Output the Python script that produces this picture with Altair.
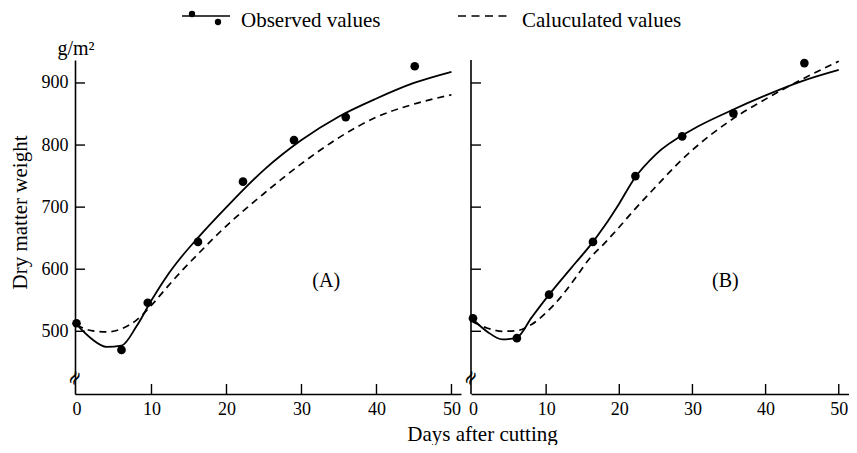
import altair as alt
import pandas as pd

FONT = "Liberation Serif"

# ---- Panel A ----
obs_days_A = [0, 6, 9.5, 16.2, 22.2, 29, 35.9, 45.1]
obs_vals_A = [513, 470, 546, 644, 741, 808, 845, 927]
fit_days_A = [0, 2, 4, 6, 8, 10, 12, 14, 16, 20, 25, 30, 35, 40, 45, 50]
obs_fit_A = [511, 488, 475, 477, 508, 550, 588, 620, 648, 700, 760, 808, 846, 875, 900, 918]
calc_A = [510, 501, 499, 504, 518, 542, 570, 597, 622, 670, 722, 770, 812, 845, 866, 881]

# ---- Panel B ----
obs_days_B = [0, 6, 10.4, 16.4, 22.2, 28.6, 35.6, 45.3]
obs_vals_B = [521, 489, 559, 644, 750, 814, 851, 932]
fit_days_B = [0, 2, 4, 6, 8, 10, 12, 14, 16, 18, 20, 22, 25, 30, 35, 40, 45, 50]
obs_fit_B = [519, 499, 487, 490, 522, 553, 582, 610, 638, 670, 706, 745, 785, 825, 854, 880, 903, 921]
calc_days_B = [0, 2, 4, 6, 8, 10, 12, 14, 16, 18, 20, 22, 25, 28, 30, 35, 40, 45, 50]
calc_B = [515, 505, 500, 501, 511, 530, 555, 586, 618, 642, 668, 695, 733, 770, 792, 838, 874, 906, 935]

x_ticks = [0, 10, 20, 30, 40, 50]
x_minor = [10, 20, 30, 40, 50]
y_ticks = [500, 600, 700, 800, 900]

panel_labels = ["(A)", "(B)"]
panel_label_day = [33.3, 34.5]
panel_label_val = [581, 581]

W, H = 774, 334
XB0 = 396  # left edge of panel B inside the plot area

yscale = alt.Scale(domain=[399, 937], nice=False, zero=False)
xscaleA = alt.Scale(domain=[-0.2, 51.27], range=[0, 386], nice=False, zero=False)
xscaleB = alt.Scale(domain=[-0.27, 51.4], range=[XB0, W], nice=False, zero=False)

common_axis = dict(ticks=False, grid=False, domain=True, domainColor="black",
                   domainWidth=1.6, labelFont=FONT, labelFontSize=18,
                   labelColor="black", labelFlush=False)

axisA = alt.Axis(orient="bottom", values=x_ticks, format="d", labelPadding=6,
                 title="Days after cutting", titleFont=FONT, titleFontSize=21,
                 titleFontWeight="normal", titleColor="black", titleX=407, titleY=46,
                 titleAlign="center", titleBaseline="alphabetic", **common_axis)
axisB = alt.Axis(orient="bottom", values=x_ticks, format="d", labelPadding=6,
                 title="", **common_axis)
yaxis = alt.Axis(orient="left", values=y_ticks, format="d", labelPadding=7,
                 title="Dry matter weight", titleFont=FONT, titleFontSize=21,
                 titleFontWeight="normal", titleColor="black", titleX=-55, titleY=152,
                 titleAngle=270, titleAlign="center", titleBaseline="middle",
                 **common_axis)


def enc_x(scale, axis):
    return alt.X("day:Q", scale=scale, axis=axis)


Y = alt.Y("val:Q", scale=yscale, axis=yaxis)


def panel(obs_d, obs_v, fit_d, fit_v, calc_d, calc_v, scale, axis, lab, lab_d, lab_v, x0):
    X = enc_x(scale, axis)
    solid = alt.Chart(pd.DataFrame({"day": fit_d, "val": fit_v})).mark_line(
        interpolate="monotone", color="black", strokeWidth=1.8).encode(x=X, y=Y)
    dashed = alt.Chart(pd.DataFrame({"day": calc_d, "val": calc_v})).mark_line(
        interpolate="monotone", color="black", strokeWidth=1.7,
        strokeDash=[7, 5]).encode(x=X, y=Y)
    pts = alt.Chart(pd.DataFrame({"day": obs_d, "val": obs_v})).mark_circle(
        color="black", size=75, opacity=1).encode(x=X, y=Y)
    label = alt.Chart(pd.DataFrame({"day": [lab_d], "val": [lab_v], "t": [lab]})).mark_text(
        font=FONT, fontSize=20, color="black").encode(x=X, y=Y, text="t:N")
    xt = alt.Chart(pd.DataFrame({"day": x_minor})).mark_rule(
        color="black", strokeWidth=1.4).encode(x=X, y=alt.value(H), y2=alt.value(H - 10))
    yt = alt.Chart(pd.DataFrame({"val": y_ticks})).mark_rule(
        color="black", strokeWidth=1.4).encode(y=Y, x=alt.value(x0), x2=alt.value(x0 + 10))
    brk = alt.Chart(pd.DataFrame({"a": [0]})).mark_text(
        text="≈", font="DejaVu Serif", fontSize=20, angle=300, color="black").encode(
        x=alt.value(x0), y=alt.value(H - 16))
    return alt.layer(solid, dashed, pts, label, xt, yt, brk)


A = panel(obs_days_A, obs_vals_A, fit_days_A, obs_fit_A, fit_days_A, calc_A,
          xscaleA, axisA, panel_labels[0], panel_label_day[0], panel_label_val[0], 0)
B = panel(obs_days_B, obs_vals_B, fit_days_B, obs_fit_B, calc_days_B, calc_B,
          xscaleB, axisB, panel_labels[1], panel_label_day[1], panel_label_val[1], XB0)

one = pd.DataFrame({"a": [0]})
b_yaxis = alt.Chart(one).mark_rule(color="black", strokeWidth=1.6).encode(
    x=alt.value(XB0), y=alt.value(0), y2=alt.value(H))
unit = alt.Chart(one).mark_text(text="g/m²", font=FONT, fontSize=20, color="black",
                                align="center", baseline="alphabetic").encode(
    x=alt.value(1), y=alt.value(-5))
leg_line = alt.Chart(one).mark_rule(color="black", strokeWidth=1.6).encode(
    x=alt.value(107), x2=alt.value(155), y=alt.value(-44))
leg_dot1 = alt.Chart(one).mark_circle(color="black", size=40, opacity=1).encode(
    x=alt.value(117), y=alt.value(-46))
leg_dot2 = alt.Chart(one).mark_circle(color="black", size=40, opacity=1).encode(
    x=alt.value(143), y=alt.value(-38))
leg_txt1 = alt.Chart(one).mark_text(text="Observed values", font=FONT, fontSize=21,
                                    color="black", align="left", baseline="alphabetic").encode(
    x=alt.value(166), y=alt.value(-33))
leg_dash = alt.Chart(one).mark_rule(color="black", strokeWidth=1.6, strokeDash=[8, 5.5]).encode(
    x=alt.value(383), x2=alt.value(437), y=alt.value(-44))
leg_txt2 = alt.Chart(one).mark_text(text="Caluculated values", font=FONT, fontSize=21,
                                    color="black", align="left", baseline="alphabetic").encode(
    x=alt.value(447), y=alt.value(-33))

deco = alt.layer(b_yaxis, unit, leg_line, leg_dot1, leg_dot2, leg_txt1, leg_dash, leg_txt2)

chart = alt.layer(A, B, deco).resolve_scale(x="independent").resolve_axis(x="independent").properties(
    width=W, height=H,
    padding={"left": 67, "top": 52, "right": 0, "bottom": 51},
    autosize=alt.AutoSizeParams(type="none"),
    background="white",
).configure_view(stroke=None)

chart.save("out.html", embed_options={"renderer": "svg", "actions": False})
